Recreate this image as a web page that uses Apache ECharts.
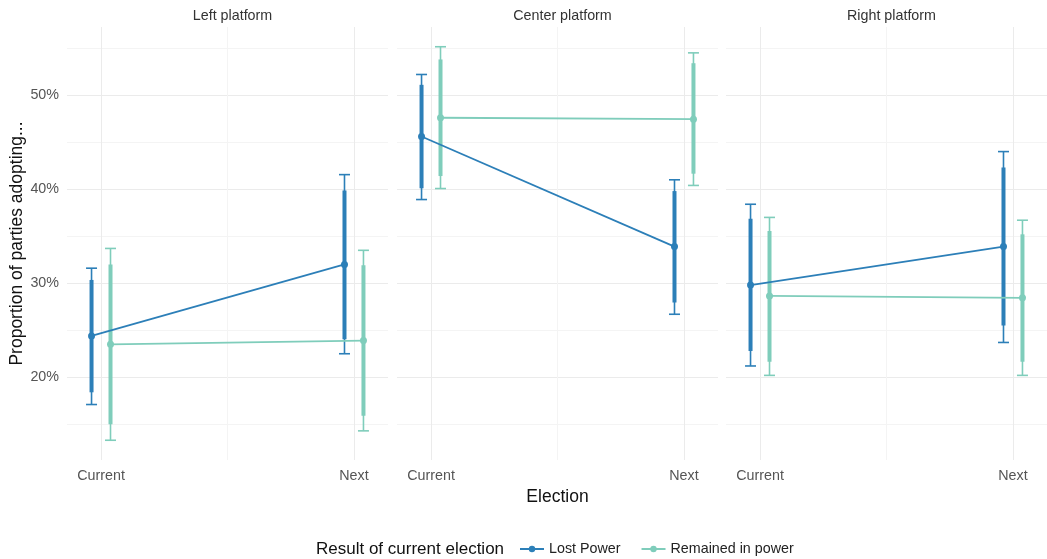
<!DOCTYPE html>
<html>
<head>
<meta charset="utf-8">
<script src="https://cdn.jsdelivr.net/npm/echarts@6/dist/echarts.min.js"></script>
<style>
  html, body { margin: 0; padding: 0; background: #ffffff; }
  #chart { width: 1047px; height: 559px; }
</style>
</head>
<body>
<div id="chart"></div>
<script>
// Facets, x categories and groups
const panels = ['Left platform', 'Center platform', 'Right platform'];
const elections = ['Current', 'Next'];
const groups = ['Lost Power', 'Remained in power'];
const yTickValues = [20, 30, 40, 50];

// Lost Power — one [Current, Next] pair per platform
const lostEst  = [[24.4, 32.0], [45.6, 33.9], [29.8, 33.9]];
const lostLo95 = [[17.1, 22.5], [38.9, 26.7], [21.2, 23.7]];
const lostHi95 = [[31.6, 41.55], [52.2, 41.0], [38.4, 44.0]];
const lostLo90 = [[18.4, 24.05], [40.1, 27.95], [22.8, 25.5]];
const lostHi90 = [[30.35, 39.85], [51.1, 39.8], [36.85, 42.3]];

// Remained in power — one [Current, Next] pair per platform
const keptEst  = [[23.5, 23.9], [47.6, 47.45], [28.65, 28.45]];
const keptLo95 = [[13.3, 14.3], [40.07, 40.4], [20.2, 20.2]];
const keptHi95 = [[33.7, 33.5], [55.15, 54.5], [37.0, 36.7]];
const keptLo90 = [[15.0, 15.9], [41.4, 41.65], [21.65, 21.65]];
const keptHi90 = [[32.0, 31.9], [53.8, 53.4], [35.55, 35.2]];

const COLORS = ['#2c7fb8', '#7fcdbb'];
const FONT = '"Liberation Sans", Arial, Helvetica, sans-serif';
const GRID_MAJOR = '#ebebeb';
const GRID_MINOR = '#f4f4f4';
const SMALL = 14.3;
const LARGE = 17.5;

const xPos = [1, 2];          // Current, Next
const dodge = 0.0375;         // horizontal offset between the two groups
const X_MIN = 0.8655, X_MAX = 2.1345;
const Y_MIN = 11.2, Y_MAX = 57.25;

const gridLeft = [67, 397, 726];
const gridWidth = 321;

const grids = gridLeft.map(l => ({ left: l, width: gridWidth, top: 27, height: 433 }));

const xAxes = panels.map((p, i) => ({
  type: 'value',
  gridIndex: i,
  min: X_MIN,
  max: X_MAX,
  axisLine: { show: false },
  axisTick: { show: false, customValues: [1, 1.5, 2] },
  axisLabel: {
    customValues: xPos,
    formatter: v => elections[Math.round(v) - 1] || '',
    color: '#555',
    fontSize: SMALL,
    fontFamily: FONT,
    margin: 9
  },
  splitLine: {
    show: true,
    customValues: [1, 1.5, 2],
    lineStyle: { color: [GRID_MAJOR, GRID_MINOR, GRID_MAJOR], width: 1 }
  },
  name: i === 1 ? 'Election' : '',
  nameLocation: 'middle',
  nameGap: 27,
  nameTextStyle: { color: '#111', fontSize: LARGE, fontFamily: FONT }
}));

const yAxes = panels.map((p, i) => ({
  type: 'value',
  gridIndex: i,
  min: Y_MIN,
  max: Y_MAX,
  axisLine: { show: false },
  axisTick: { show: false, customValues: [15, 20, 25, 30, 35, 40, 45, 50, 55] },
  axisLabel: {
    show: i === 0,
    customValues: yTickValues,
    formatter: v => v + '%',
    color: '#555',
    fontSize: SMALL,
    fontFamily: FONT,
    margin: 8
  },
  splitLine: {
    show: true,
    customValues: [15, 20, 25, 30, 35, 40, 45, 50, 55],
    lineStyle: { color: [GRID_MINOR, GRID_MAJOR], width: 1 }
  },
  name: i === 0 ? 'Proportion of parties adopting...' : '',
  nameLocation: 'middle',
  nameGap: 40,
  nameTextStyle: { color: '#111', fontSize: LARGE, fontFamily: FONT }
}));

// Error bar: thin 95% interval with caps, thick 90% interval
function renderInterval(params, api) {
  const x = api.value(0);
  const lo95 = api.coord([x, api.value(1)]);
  const hi95 = api.coord([x, api.value(2)]);
  const lo90 = api.coord([x, api.value(3)]);
  const hi90 = api.coord([x, api.value(4)]);
  const color = api.visual('color');
  const cap = 5.5;
  const thin = { stroke: color, lineWidth: 1.6 };
  return {
    type: 'group',
    children: [
      { type: 'line', shape: { x1: lo95[0], y1: lo95[1], x2: hi95[0], y2: hi95[1] }, style: thin },
      { type: 'line', shape: { x1: lo95[0] - cap, y1: lo95[1], x2: lo95[0] + cap, y2: lo95[1] }, style: thin },
      { type: 'line', shape: { x1: hi95[0] - cap, y1: hi95[1], x2: hi95[0] + cap, y2: hi95[1] }, style: thin },
      { type: 'line', shape: { x1: lo90[0], y1: lo90[1], x2: hi90[0], y2: hi90[1] }, style: { stroke: color, lineWidth: 4 } }
    ]
  };
}

const groupData = [
  { est: lostEst, lo95: lostLo95, hi95: lostHi95, lo90: lostLo90, hi90: lostHi90, shift: -dodge },
  { est: keptEst, lo95: keptLo95, hi95: keptHi95, lo90: keptLo90, hi90: keptHi90, shift: dodge }
];

const series = [];
// Estimates joined across elections (listed first so the legend shows line + point icons)
panels.forEach((p, pi) => {
  groupData.forEach((g, gi) => {
    series.push({
      type: 'line',
      name: groups[gi],
      xAxisIndex: pi,
      yAxisIndex: pi,
      data: xPos.map((x, k) => [x + g.shift, g.est[pi][k]]),
      symbol: 'circle',
      symbolSize: 7,
      showSymbol: true,
      lineStyle: { color: COLORS[gi], width: 1.8 },
      itemStyle: { color: COLORS[gi] },
      z: 3
    });
  });
});
// Interval bars drawn beneath the estimate points
panels.forEach((p, pi) => {
  groupData.forEach((g, gi) => {
    series.push({
      type: 'custom',
      name: groups[gi],
      xAxisIndex: pi,
      yAxisIndex: pi,
      renderItem: renderInterval,
      itemStyle: { color: COLORS[gi] },
      encode: { x: 0, y: [1, 2, 3, 4] },
      data: xPos.map((x, k) => [x + g.shift, g.lo95[pi][k], g.hi95[pi][k], g.lo90[pi][k], g.hi90[pi][k]]),
      silent: true,
      z: 2
    });
  });
});

const titles = panels.map((p, i) => ({
  text: p,
  left: gridLeft[i] + gridWidth / 2,
  top: 4,
  textAlign: 'center',
  textStyle: { color: '#333', fontSize: SMALL, fontWeight: 'normal', fontFamily: FONT }
}));
titles.push({
  text: 'Result of current election',
  left: 311,
  top: 536,
  textStyle: { color: '#111', fontSize: 17, fontWeight: 'normal', fontFamily: FONT }
});

const chart = echarts.init(document.getElementById('chart'), null, { renderer: 'canvas' });
chart.setOption({
  animation: false,
  backgroundColor: '#ffffff',
  title: titles,
  grid: grids,
  xAxis: xAxes,
  yAxis: yAxes,
  legend: {
    data: groups,
    left: 514,
    top: 537,
    itemWidth: 24,
    itemHeight: 8,
    itemGap: 20,
    textStyle: { color: '#222', fontSize: SMALL, fontFamily: FONT }
  },
  series: series
});
</script>
</body>
</html>
